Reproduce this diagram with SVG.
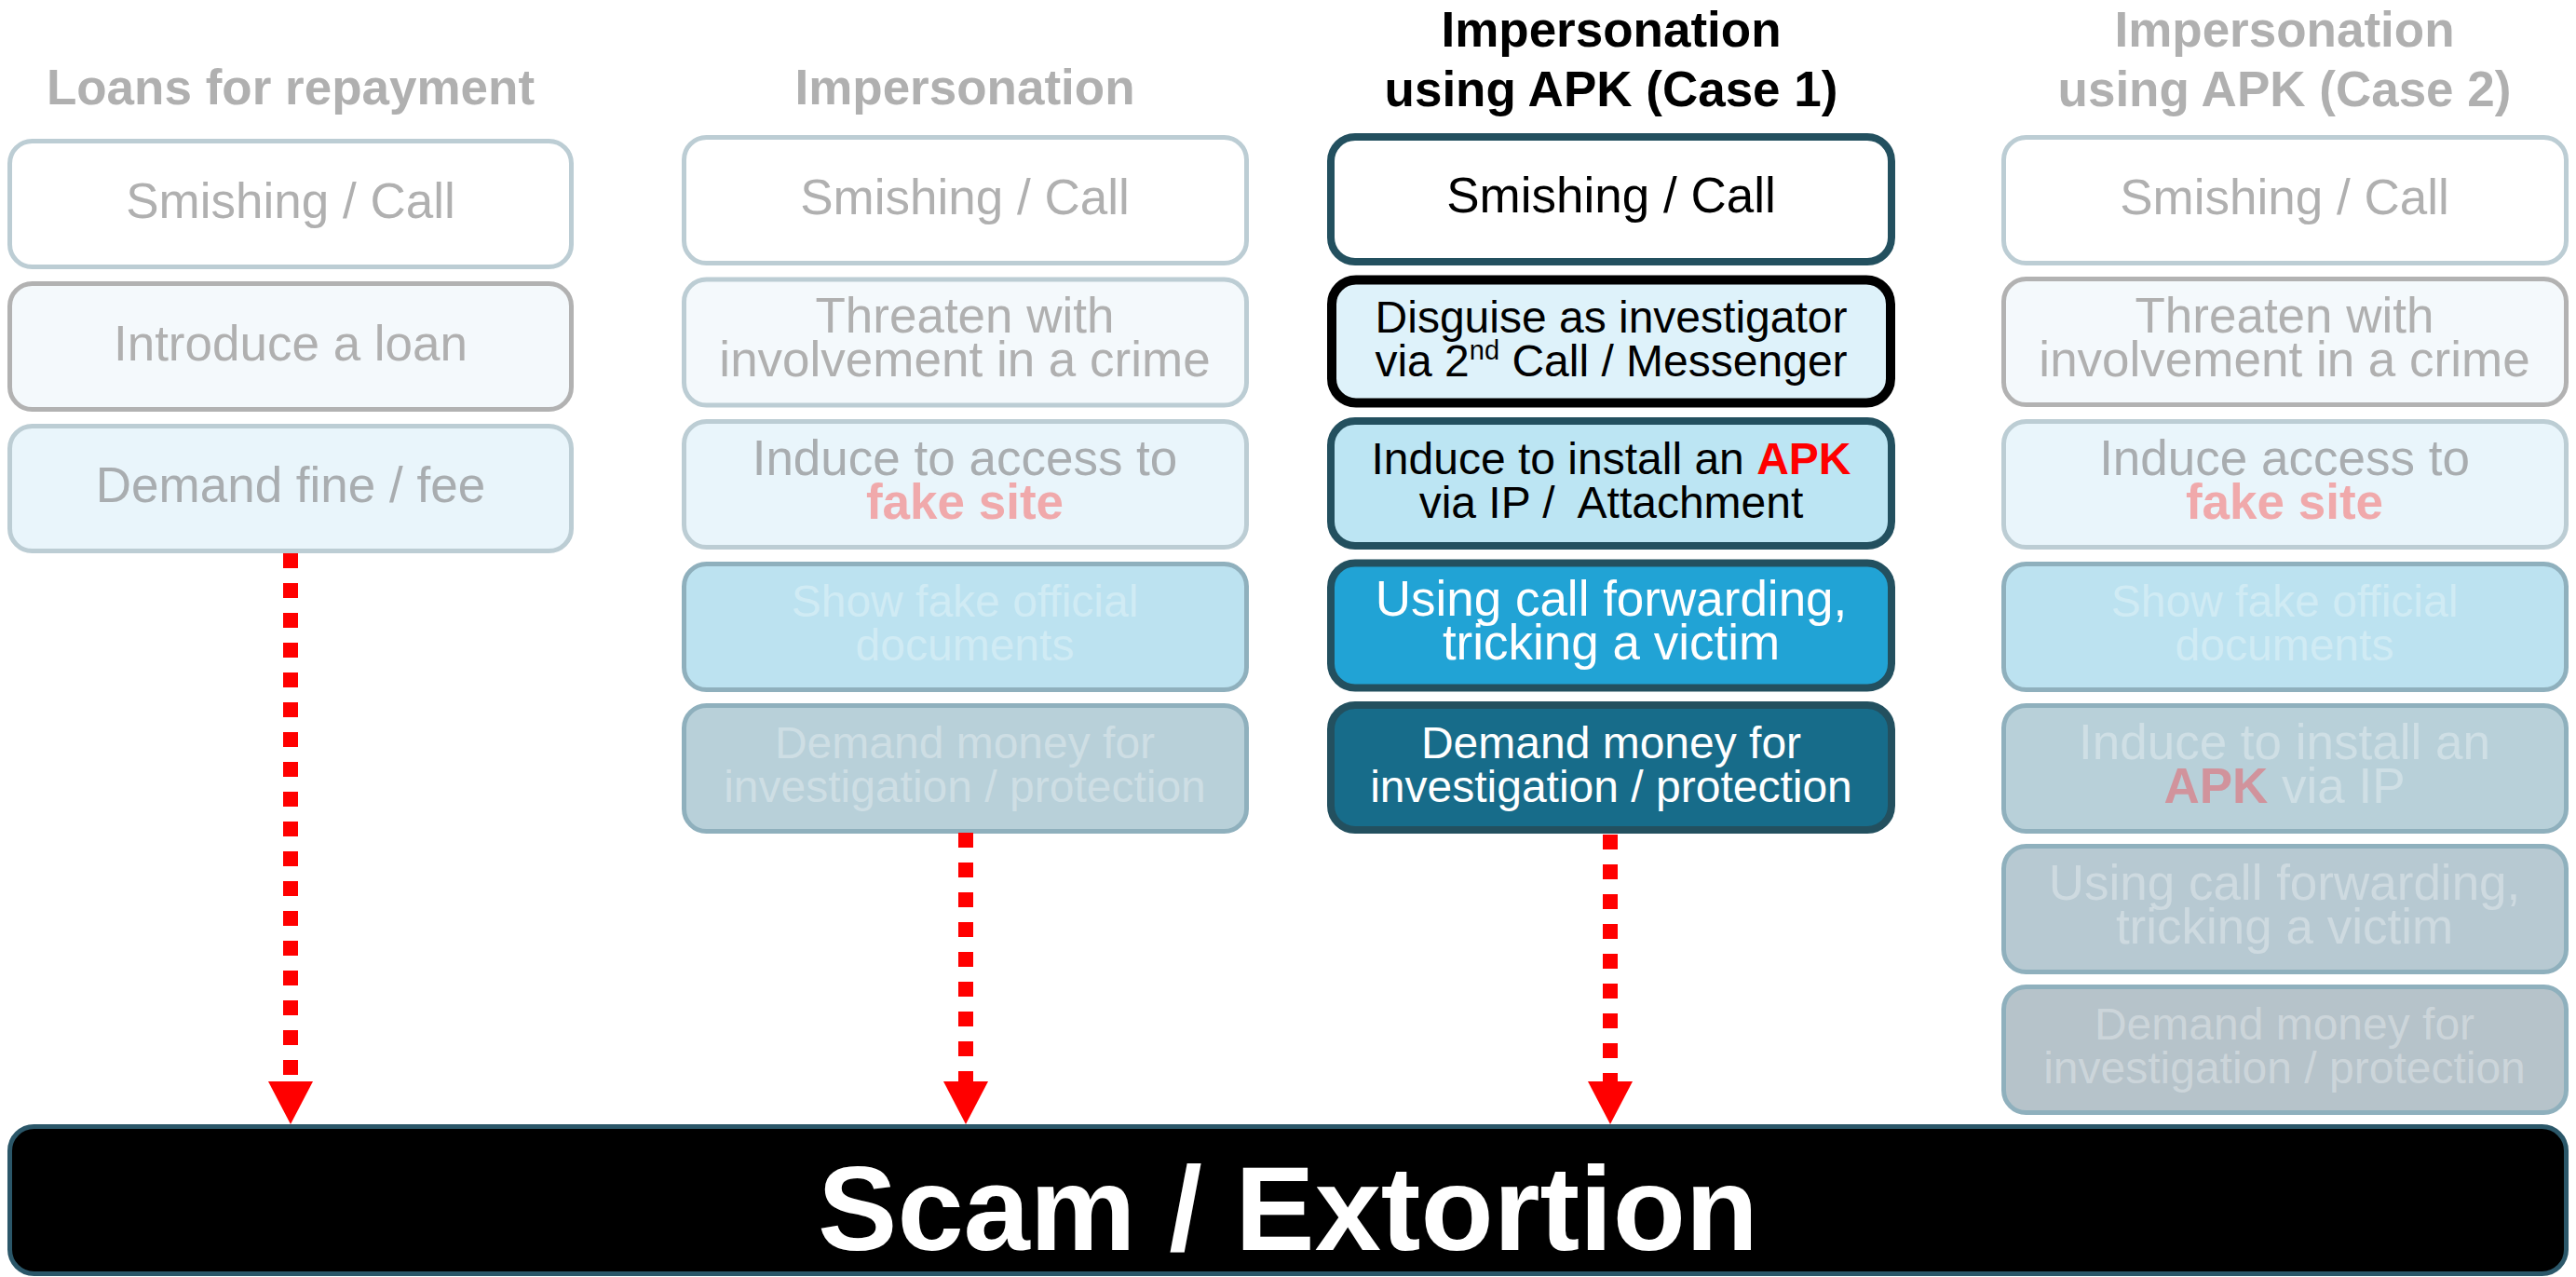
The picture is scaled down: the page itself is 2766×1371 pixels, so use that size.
<svg xmlns="http://www.w3.org/2000/svg" width="2766" height="1371" viewBox="0 0 2766 1371">
<style>
text{font-family:"Liberation Sans",Arial,sans-serif;text-anchor:middle}
.t{font-size:53px}
.s{font-size:48px}
.h{font-size:53px;font-weight:bold}
.b{font-weight:bold}
.gt{fill:#b0b0b0}
.gt2{fill:#a9adb0}
.ft{fill:#ffffff;fill-opacity:0.32}
.box{stroke-width:5}
.lt{stroke:#bccdd4}
.gr{stroke:#b2b2b2}
.md{stroke:#8fb0bd}
.c3{stroke:#23505f;stroke-width:8}
.w{fill:#ffffff}
.p1{fill:#f4f9fc}
.p2{fill:#e9f5fb}
.p3{fill:#bce2f0}
.p4{fill:#b8d0d9}
.p5{fill:#b7c9d2}
.p6{fill:#b6c3ca}
.pink{fill:#f0a9ab}
.apk2{fill:#d1939c}
.conn{stroke:#ff0000;stroke-width:16;stroke-dasharray:16 16;fill:none}
</style>
<defs>
<marker id="ah" viewBox="0 0 46 48" refX="0" refY="24" markerWidth="46" markerHeight="48" markerUnits="userSpaceOnUse" orient="auto">
<path d="M0,0 L46,24 L0,48 z" fill="#ff0000"/>
</marker>
</defs>

<!-- Column 1 -->
<g id="col1-title"><text class="h gt" x="312" y="112">Loans for repayment</text></g>
<g id="c1-n1"><rect class="box lt w" x="10.5" y="151.5" width="603" height="135" rx="24"/><text class="t gt" x="312" y="234">Smishing / Call</text></g>
<g id="c1-n2"><rect class="box gr p1" x="10.5" y="304.5" width="603" height="135" rx="24"/><text class="t gt" x="312" y="387">Introduce a loan</text></g>
<g id="c1-n3"><rect class="box lt p2" x="10.5" y="457.5" width="603" height="134" rx="24"/><text class="t gt2" x="312" y="539">Demand fine / fee</text></g>

<!-- Column 2 -->
<g id="col2-title"><text class="h gt" x="1036" y="112">Impersonation</text></g>
<g id="c2-n1"><rect class="box lt w" x="734.5" y="147.5" width="604" height="135" rx="24"/><text class="t gt" x="1036" y="230">Smishing / Call</text></g>
<g id="c2-n2"><rect class="box lt p1" x="734.5" y="300" width="604" height="135" rx="24"/><text class="t gt" x="1036" y="357">Threaten with</text><text class="t gt" x="1036" y="404">involvement in a crime</text></g>
<g id="c2-n3"><rect class="box lt p2" x="734.5" y="452.5" width="604" height="135" rx="24"/><text class="t gt2" x="1036" y="510">Induce to access to</text><text class="t b pink" x="1036" y="557">fake site</text></g>
<g id="c2-n4"><rect class="box md p3" x="734.5" y="605.5" width="604" height="135" rx="24"/><text class="s ft" x="1036" y="662">Show fake official</text><text class="s ft" x="1036" y="709">documents</text></g>
<g id="c2-n5"><rect class="box md p4" x="734.5" y="757.5" width="604" height="135" rx="24"/><text class="s ft" x="1036" y="814">Demand money for</text><text class="s ft" x="1036" y="861">investigation / protection</text></g>

<!-- Column 3 -->
<g id="col3-title"><text class="h" x="1730" y="50" fill="#000">Impersonation</text><text class="h" x="1730" y="114" fill="#000">using APK (Case 1)</text></g>
<g id="c3-n1"><rect class="c3" x="1429" y="147" width="602" height="134" rx="26" fill="#ffffff"/><text class="t" x="1730" y="228" fill="#000">Smishing / Call</text></g>
<g id="c3-n2"><rect x="1430" y="300.5" width="600" height="132" rx="26" fill="#def2fa" stroke="#000" stroke-width="10"/><text class="s" x="1730" y="357" fill="#000">Disguise as investigator</text><text class="s" x="1730" y="404" fill="#000">via 2<tspan font-size="29" dy="-18">nd</tspan><tspan dy="18"> Call / Messenger</tspan></text></g>
<g id="c3-n3"><rect class="c3" x="1429" y="452" width="602" height="134" rx="26" fill="#bce5f3"/><text class="s" x="1730" y="509" fill="#000">Induce to install an <tspan class="b" fill="#ff0000">APK</tspan></text><text class="s" x="1730" y="556" fill="#000" xml:space="preserve">via IP /  Attachment</text></g>
<g id="c3-n4"><rect class="c3" x="1429" y="604.5" width="602" height="134" rx="26" fill="#21a3d5"/><text class="t" x="1730" y="661" fill="#fff">Using call forwarding,</text><text class="t" x="1730" y="708" fill="#fff">tricking a victim</text></g>
<g id="c3-n5"><rect class="c3" x="1429" y="757" width="602" height="134" rx="26" fill="#176c8a"/><text class="s" x="1730" y="814" fill="#fff">Demand money for</text><text class="s" x="1730" y="861" fill="#fff">investigation / protection</text></g>

<!-- Column 4 -->
<g id="col4-title"><text class="h gt" x="2453" y="50">Impersonation</text><text class="h gt" x="2453" y="114">using APK (Case 2)</text></g>
<g id="c4-n1"><rect class="box lt w" x="2151.5" y="147.5" width="604" height="135" rx="24"/><text class="t gt" x="2453" y="230">Smishing / Call</text></g>
<g id="c4-n2"><rect class="box gr p1" x="2151.5" y="299.5" width="604" height="135" rx="24"/><text class="t gt" x="2453" y="357">Threaten with</text><text class="t gt" x="2453" y="404">involvement in a crime</text></g>
<g id="c4-n3"><rect class="box lt p2" x="2151.5" y="452.5" width="604" height="135" rx="24"/><text class="t gt2" x="2453" y="510">Induce access to</text><text class="t b pink" x="2453" y="557">fake site</text></g>
<g id="c4-n4"><rect class="box md p3" x="2151.5" y="605.5" width="604" height="135" rx="24"/><text class="s ft" x="2453" y="662">Show fake official</text><text class="s ft" x="2453" y="709">documents</text></g>
<g id="c4-n5"><rect class="box md p4" x="2151.5" y="757.5" width="604" height="135" rx="24"/><text class="t ft" x="2453" y="815">Induce to install an</text><text class="t" x="2453" y="862"><tspan class="b apk2">APK</tspan><tspan class="ft"> via IP</tspan></text></g>
<g id="c4-n6"><rect class="box md p5" x="2151.5" y="908.5" width="604" height="135" rx="24"/><text class="t ft" x="2453" y="966">Using call forwarding,</text><text class="t ft" x="2453" y="1013">tricking a victim</text></g>
<g id="c4-n7"><rect class="box md p6" x="2151.5" y="1059.5" width="604" height="135" rx="24"/><text class="s ft" x="2453" y="1116">Demand money for</text><text class="s ft" x="2453" y="1163">investigation / protection</text></g>

<!-- Bottom bar -->
<g id="scam"><rect x="10.5" y="1209.5" width="2745" height="158" rx="26" fill="#000" stroke="#2b5769" stroke-width="5"/><text x="1383" y="1342" font-size="128" font-weight="bold" fill="#fff">Scam / Extortion</text></g>

<!-- Connectors -->
<g id="connectors">
<path class="conn" d="M312,594 V1161" marker-end="url(#ah)"/>
<path class="conn" d="M1037,894 V1161" marker-end="url(#ah)"/>
<path class="conn" d="M1729,896 V1161" marker-end="url(#ah)"/>
</g>
</svg>
